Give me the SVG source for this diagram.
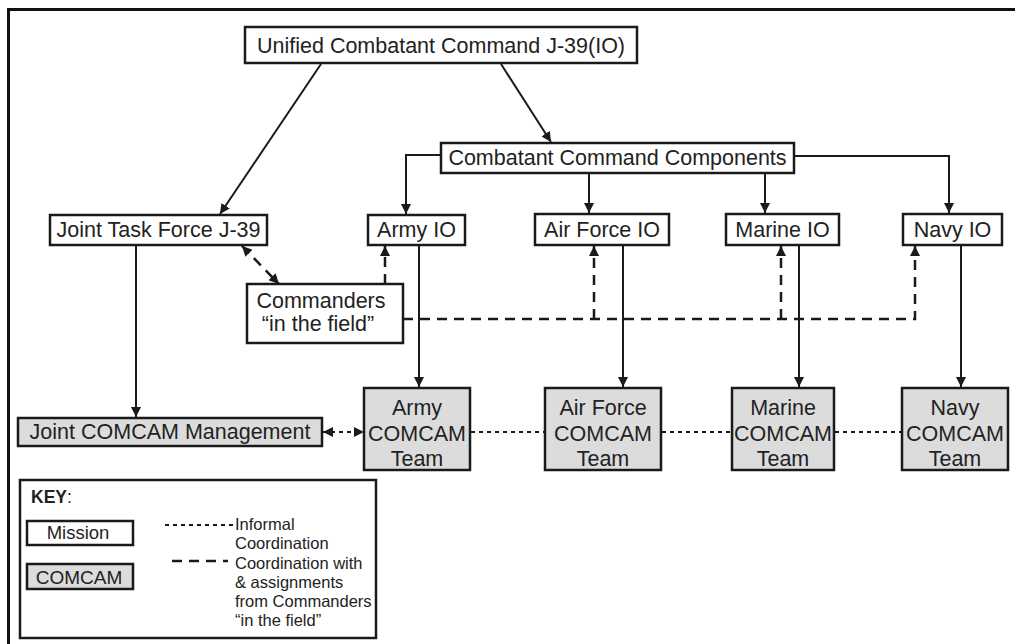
<svg xmlns="http://www.w3.org/2000/svg" width="1015" height="644" viewBox="0 0 1015 644">
<defs>
<style>
.box{fill:#fff;stroke:#1a1a1a;stroke-width:2.5}
.gbox{fill:#dcdcdc;stroke:#1a1a1a;stroke-width:2.5}
.t{font-family:"Liberation Sans",Arial,sans-serif;font-size:21.5px;fill:#222;text-anchor:middle}
.lt{font-family:"Liberation Sans",Arial,sans-serif;font-size:16.5px;fill:#222}
.ln{fill:none;stroke:#1a1a1a;stroke-width:2}
.dash{fill:none;stroke:#1a1a1a;stroke-width:2.5;stroke-dasharray:10 7}
.dot{fill:none;stroke:#1a1a1a;stroke-width:2;stroke-dasharray:4 4}
</style>
<marker id="ah" viewBox="0 0 10 10" refX="10" refY="5" markerWidth="10" markerHeight="10" markerUnits="userSpaceOnUse" orient="auto-start-reverse">
<path d="M0,0 L10,5 L0,10 Z" fill="#1a1a1a"/>
</marker>
</defs>
<rect width="1015" height="644" fill="#fff"/>
<path d="M8.5,644 V9.5 H1015" fill="none" stroke="#111" stroke-width="3"/>

<g id="connectors">
<line class="ln" x1="321" y1="64" x2="220" y2="214" marker-end="url(#ah)"/>
<line class="ln" x1="501" y1="64" x2="551" y2="142" marker-end="url(#ah)"/>
<polyline class="ln" points="441,155 406,155 406,214" marker-end="url(#ah)"/>
<line class="ln" x1="589" y1="173" x2="589" y2="213" marker-end="url(#ah)"/>
<line class="ln" x1="765" y1="173" x2="765" y2="213" marker-end="url(#ah)"/>
<polyline class="ln" points="794,156 949,156 949,213" marker-end="url(#ah)"/>
<line class="ln" x1="136" y1="245" x2="136" y2="417" marker-end="url(#ah)"/>
<line class="ln" x1="419" y1="245" x2="419" y2="387" marker-end="url(#ah)"/>
<line class="ln" x1="623" y1="245" x2="623" y2="387" marker-end="url(#ah)"/>
<line class="ln" x1="799" y1="245" x2="799" y2="387" marker-end="url(#ah)"/>
<line class="ln" x1="961" y1="245" x2="961" y2="387" marker-end="url(#ah)"/>
<line class="dash" x1="242" y1="246" x2="279" y2="284" marker-start="url(#ah)" marker-end="url(#ah)" stroke-dasharray="8 6"/>
<line class="dash" x1="385" y1="284" x2="385" y2="246" marker-end="url(#ah)" stroke-dasharray="10 7"/>
<polyline class="dash" points="403,319 915,319 915,246" marker-end="url(#ah)"/>
<polyline class="dash" points="594,319 594,246" marker-end="url(#ah)"/>
<polyline class="dash" points="781,319 781,246" marker-end="url(#ah)"/>
<line class="dot" x1="323" y1="432" x2="364" y2="432" marker-start="url(#ah)" marker-end="url(#ah)" stroke-dasharray="5 4"/>
<line class="dot" x1="471" y1="432" x2="545" y2="432"/>
<line class="dot" x1="662" y1="432" x2="732" y2="432"/>
<line class="dot" x1="835" y1="432" x2="902" y2="432"/>
</g>

<g id="unified"><rect class="box" x="245" y="27" width="392" height="36"/><text class="t" x="441" y="53">Unified Combatant Command J-39(IO)</text></g>
<g id="ccc"><rect class="box" x="441" y="143" width="353" height="30"/><text class="t" x="617.5" y="165">Combatant Command Components</text></g>
<g id="jtf"><rect class="box" x="50" y="215" width="217" height="30"/><text class="t" x="158.5" y="237">Joint Task Force J-39</text></g>
<g id="armyio"><rect class="box" x="368" y="215" width="97" height="30"/><text class="t" x="416.5" y="237">Army IO</text></g>
<g id="afio"><rect class="box" x="535" y="214" width="134" height="31"/><text class="t" x="602" y="237">Air Force IO</text></g>
<g id="marineio"><rect class="box" x="726" y="214" width="113" height="31"/><text class="t" x="782.5" y="237">Marine IO</text></g>
<g id="navyio"><rect class="box" x="903" y="214" width="99" height="31"/><text class="t" x="952.5" y="237">Navy IO</text></g>
<g id="commanders"><rect class="box" x="247" y="284" width="156" height="59"/><text class="t" x="321" y="308">Commanders</text><text class="t" x="318" y="331">“in the field”</text></g>
<g id="jcm"><rect class="gbox" x="18" y="418" width="304" height="28"/><text class="t" x="170" y="439">Joint COMCAM Management</text></g>
<g id="armycc"><rect class="gbox" x="364" y="388" width="106" height="82"/><text class="t" x="417" y="415">Army</text><text class="t" x="417" y="441">COMCAM</text><text class="t" x="417" y="466">Team</text></g>
<g id="afcc"><rect class="gbox" x="545" y="388" width="116" height="82"/><text class="t" x="603" y="415">Air Force</text><text class="t" x="603" y="441">COMCAM</text><text class="t" x="603" y="466">Team</text></g>
<g id="marinecc"><rect class="gbox" x="732" y="388" width="102" height="82"/><text class="t" x="783" y="415">Marine</text><text class="t" x="783" y="441">COMCAM</text><text class="t" x="783" y="466">Team</text></g>
<g id="navycc"><rect class="gbox" x="902" y="388" width="106" height="82"/><text class="t" x="955" y="415">Navy</text><text class="t" x="955" y="441">COMCAM</text><text class="t" x="955" y="466">Team</text></g>

<g id="key">
<rect x="20" y="480" width="356" height="158" fill="#fff" stroke="#1a1a1a" stroke-width="2.5"/>
<text class="lt" x="31" y="503" style="font-size:17.5px"><tspan font-weight="bold">KEY</tspan>:</text>
<rect class="box" x="27" y="521" width="106" height="24"/>
<text class="t" x="78" y="539" style="font-size:18.5px">Mission</text>
<rect class="gbox" x="27" y="564" width="106" height="25"/>
<text class="t" x="79" y="584" style="font-size:19px">COMCAM</text>
<line class="dot" x1="165" y1="525" x2="233" y2="525" stroke-dasharray="4 3"/>
<line class="dash" x1="172" y1="561" x2="228" y2="561" stroke-dasharray="11 9"/>
<text class="lt" x="235" y="530">Informal</text>
<text class="lt" x="235" y="549">Coordination</text>
<text class="lt" x="235" y="569">Coordination with</text>
<text class="lt" x="235" y="588">&amp; assignments</text>
<text class="lt" x="235" y="607">from Commanders</text>
<text class="lt" x="235" y="626">“in the field”</text>
</g>
</svg>
